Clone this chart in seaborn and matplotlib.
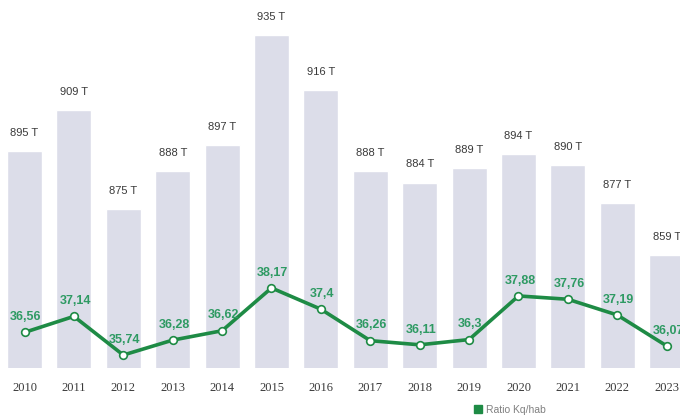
import matplotlib
matplotlib.use("Agg")
import matplotlib.pyplot as plt
import seaborn as sns
import numpy as np
import pandas as pd
from matplotlib.lines import Line2D

years = ["2010", "2011", "2012", "2013", "2014", "2015", "2016",
         "2017", "2018", "2019", "2020", "2021", "2022", "2023"]
tonnes = [895, 909, 875, 888, 897, 935, 916, 888, 884, 889, 894, 890, 877, 859]
ratio = [36.56, 37.14, 35.74, 36.28, 36.62, 38.17, 37.4,
         36.26, 36.11, 36.3, 37.88, 37.76, 37.19, 36.07]
legend_label = "Ratio Kq/hab"

bar_color = "#dcdde9"
line_color = "#1e8b45"
label_green = "#2e9a63"
text_dark = "#3a3a3a"

sns.set_theme(style="white")
plt.rcParams["font.family"] = ["Liberation Sans", "DejaVu Sans"]

df = pd.DataFrame({"year": years, "tonnes": tonnes, "ratio": ratio,
                   "pos": np.arange(len(years))})

fig = plt.figure(figsize=(6.8, 4.19), dpi=100)
ax = fig.add_axes([0, 51 / 419, 1, 368 / 419])
sns.barplot(data=df, x="year", y="tonnes", order=years, color=bar_color,
            width=0.71, saturation=1, ax=ax, zorder=1)
ax.set_ylim(820, 947)
ax.set_xlim(-0.496, 13.27)
for i, v in enumerate(tonnes):
    ax.annotate(f"{v} T", (i, v), xytext=(0, 13), textcoords="offset points",
                ha="center", va="center", fontsize=8, color=text_dark)

ax2 = ax.twinx()
sns.lineplot(data=df, x="pos", y="ratio", color=line_color, linewidth=2.6,
             marker="o", markersize=5.5, markerfacecolor="white",
             markeredgecolor=line_color, markeredgewidth=1.2, ax=ax2, zorder=3)
ax2.set_ylim(35.27, 48.6)
ax2.set_xlim(-0.496, 13.27)
for i, v in enumerate(ratio):
    lab = f"{v:g}".replace(".", ",")
    ax2.annotate(lab, (i, v), xytext=(1, 11), textcoords="offset points",
                 ha="center", va="center", fontsize=9, color=label_green,
                 fontweight="bold")

for a in (ax, ax2):
    for s in a.spines.values():
        s.set_visible(False)
    a.set_ylabel("")
    a.set_xlabel("")
    a.grid(False)
ax2.set_yticks([])
ax.set_yticks([])
ax.tick_params(axis="x", length=0, pad=10, labelsize=9, colors=text_dark)
for t in ax.get_xticklabels():
    t.set_fontfamily(["Liberation Serif", "DejaVu Serif"])

handle = Line2D([], [], marker="s", linestyle="none", markersize=5.5,
                markerfacecolor=line_color, markeredgecolor=line_color)
fig.legend([handle], [legend_label], loc="center", bbox_to_anchor=(509 / 680, 1 - 410 / 419),
           frameon=False, fontsize=7.5, labelcolor="#808080", handletextpad=0.3,
           borderpad=0, handlelength=1)

fig.savefig("out.png", dpi=100)
